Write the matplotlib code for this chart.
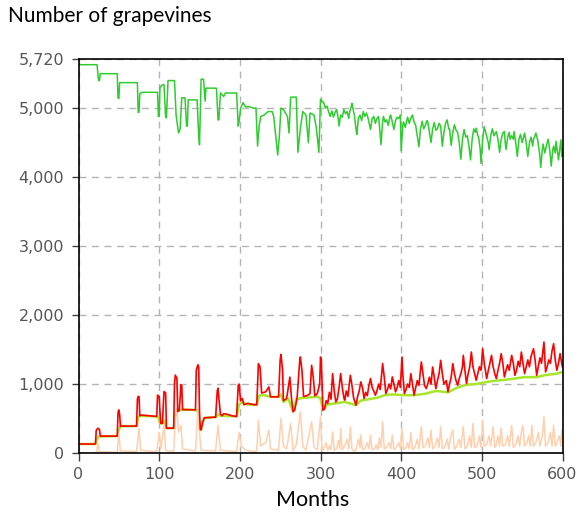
import matplotlib
matplotlib.use("Agg")
import matplotlib.pyplot as plt

# healthy vines (green, top)
g_months = [0, 23, 24, 25, 26, 27, 48, 49, 50, 51, 73, 74, 75, 76, 79, 98, 99, 100, 101, 104,
            106, 108, 109, 111, 119, 121, 124, 126, 128, 132, 134, 135, 136, 147, 149, 150, 152, 155, 157, 158,
            171, 173, 174, 176, 180, 182, 196, 198, 199, 201, 204, 207, 212, 217, 220, 222, 224, 226, 230, 235,
            240, 242, 247, 249, 251, 254, 259, 261, 263, 270, 272, 275, 278, 282, 285, 287, 292, 295, 298,
            300, 302, 304, 306, 308, 310, 312, 314, 316, 318, 320, 322, 323, 325, 327, 329, 331, 333, 335, 336,
            338, 339, 341, 342, 344, 345, 347, 349, 351, 353, 355, 357, 359, 360, 362, 364, 366, 368, 370, 372,
            373, 375, 377, 378, 380, 382, 384, 386, 387, 389, 391, 393, 395, 397, 399, 400, 402, 403, 405, 408,
            410, 411, 413, 414, 416, 418, 420, 422, 424, 426, 428, 430, 432, 433, 435, 437, 439, 441, 443, 445,
            447, 449, 451, 453, 455, 457, 459, 460, 462, 464, 466, 468, 470, 472, 474, 476, 478, 480, 482, 484,
            486, 488, 490, 492, 493, 495, 496, 498, 499, 501, 503, 505, 506, 508, 509, 511, 513, 515, 518, 520,
            522, 524, 526, 528, 529, 530, 532, 534, 535, 537, 539, 540, 542, 544, 546, 548, 550, 553, 555, 557,
            559, 561, 563, 564, 566, 567, 569, 570, 572, 573, 575, 576, 578, 580, 582, 583, 585, 586, 588, 589,
            591, 592, 594, 595, 597, 598, 599, 600]
g_vals = [5630, 5630, 5500, 5400, 5400, 5500, 5500, 5150, 5140, 5370, 5370, 4940, 4940, 5210, 5230, 5230, 4880, 4880, 5300, 5340,
          5340, 4870, 4860, 5400, 5400, 4900, 4640, 4700, 5150, 5150, 4740, 4740, 5120, 5120, 4600, 4470, 5420, 5420, 5100, 5290,
          5290, 4830, 4830, 5220, 5170, 5220, 5220, 4740, 4800, 5000, 5080, 5020, 5020, 5000, 5000, 4450, 4750, 4880, 4900, 4950,
          4950, 4880, 4320, 4600, 5000, 4980, 4880, 4640, 5160, 5160, 4360, 4700, 4950, 4900, 4500, 4930, 4900, 4700, 4360,
          5130, 5100, 5080, 5000, 5030, 4950, 4880, 4960, 4870, 4940, 4980, 4850, 4740, 4900, 4870, 4980, 4920, 4950, 4850, 4940,
          5020, 5070, 4950, 4900, 4700, 4620, 4850, 4900, 4820, 4950, 4880, 4930, 4850, 4800, 4690, 4850, 4880, 4780, 4850, 4880,
          4750, 4470, 4800, 4880, 4800, 4830, 4750, 4880, 4900, 4800, 4690, 4820, 4870, 4850, 4900, 4380, 4750, 4800, 4720, 4870,
          4780, 4820, 4880, 4900, 4800, 4750, 4600, 4440, 4700, 4810, 4700, 4750, 4820, 4800, 4650, 4500, 4700, 4790, 4680, 4700,
          4780, 4740, 4450, 4650, 4780, 4830, 4700, 4700, 4460, 4650, 4760, 4680, 4650, 4500, 4260, 4550, 4690, 4580, 4600, 4450,
          4250, 4550, 4700, 4650, 4710, 4600, 4580, 4400, 4200, 4550, 4730, 4640, 4600, 4500, 4400, 4600, 4700, 4600, 4660, 4550,
          4360, 4550, 4640, 4660, 4500, 4400, 4580, 4650, 4550, 4600, 4550, 4660, 4500, 4300, 4550, 4620, 4500, 4640, 4500, 4300,
          4500, 4580, 4450, 4550, 4600, 4640, 4550, 4480, 4300, 4140, 4400, 4480, 4350, 4450, 4550, 4500, 4300, 4160, 4400, 4450,
          4350, 4520, 4350, 4250, 4450, 4540, 4300, 4400]

# infected, latent (lime, mostly hidden under red)
l_months = [0, 21, 23, 25, 48, 50, 52, 72, 74, 76, 97, 99, 101, 104, 106, 109, 118, 120, 122, 125,
            129, 145, 148, 150, 152, 154, 156, 170, 173, 176, 196, 199, 203, 210, 221, 224, 230, 238, 248, 251,
            254, 260, 266, 270, 279, 290, 296, 300, 303, 308, 318, 330, 344, 350, 360, 370, 380, 390, 400, 416,
            430, 443, 458, 470, 481, 493, 506, 518, 528, 541, 553, 568, 579, 593, 600]
l_vals = [130, 130, 200, 240, 245, 330, 390, 390, 520, 540, 530, 520, 430, 430, 470, 360, 360, 560, 600, 620,
          630, 625, 600, 400, 335, 450, 510, 520, 560, 540, 530, 700, 740, 700, 700, 830, 840, 814, 814, 850,
          740, 790, 600, 780, 800, 810, 820, 790, 621, 700, 720, 740, 694, 760, 780, 800, 840, 850, 840, 838,
          860, 900, 880, 950, 990, 1000, 1030, 1050, 1060, 1080, 1100, 1100, 1130, 1150, 1175]

# total infected (red)
r_months = [0, 21, 22, 24, 26, 27, 48, 49, 50, 51, 52, 72, 73, 74, 75, 76, 78, 97, 98, 100,
            101, 102, 104, 106, 108, 109, 118, 119, 120, 122, 123, 125, 127, 128, 129, 145, 146, 148, 149, 150,
            151, 152, 154, 156, 170, 172, 173, 174, 176, 178, 180, 185, 190, 196, 198, 199, 201, 203, 205, 210,
            218, 221, 223, 225, 227, 232, 236, 238, 248, 250, 251, 253, 254, 258, 262, 264, 266, 268, 271, 274,
            275, 277, 279, 283, 287, 289, 291, 293, 296, 299,
            300, 301, 303, 305, 307, 309, 311, 313, 315, 317, 319, 321, 323, 325, 327, 329, 330, 332, 334, 337,
            339, 341, 344, 346, 348, 350, 352, 354, 356, 358, 360, 362, 364, 366, 368, 370, 372, 374, 377, 379,
            381, 383, 385, 387, 389, 391, 393, 395, 397, 399, 401, 402, 404, 406, 408, 410, 412, 414, 416, 418,
            420, 422, 425, 427, 429, 431, 433, 435, 437, 439, 441, 443, 445, 447, 449, 451, 453, 456, 458, 460,
            462, 464, 466, 468, 470, 472, 474, 476, 477, 479, 481, 483, 485, 487, 489, 491, 493, 495, 497, 499,
            501, 503, 505, 506, 508, 510, 512, 514, 516, 518, 520, 522, 524, 526, 528, 530, 532, 534, 537, 539,
            541, 543, 545, 547, 549, 551, 553, 555, 557, 559, 561, 564, 566, 568, 570, 572, 574, 577, 578, 579,
            581, 583, 585, 587, 589, 591, 593, 595, 597, 599, 600]
r_vals = [130, 130, 330, 360, 340, 245, 245, 580, 625, 560, 390, 390, 780, 820, 820, 540, 550, 530, 840, 820,
          600, 430, 430, 890, 870, 360, 360, 1000, 1130, 1080, 600, 620, 990, 980, 630, 625, 1200, 1280, 1250, 600,
          340, 335, 450, 510, 520, 900, 940, 800, 560, 540, 570, 560, 540, 530, 980, 1000, 760, 790, 700, 720,
          700, 700, 1296, 1250, 870, 886, 958, 814, 814, 1350, 1430, 1200, 760, 790, 1100, 800, 600, 620, 800, 1300,
          1392, 1200, 820, 830, 860, 1272, 1100, 830, 860, 1000,
          1392, 1350, 621, 640, 760, 720, 880, 780, 1151, 900, 740, 790, 950, 1151, 950, 800, 766, 900, 820, 1127,
          980, 800, 694, 820, 900, 1031, 950, 790, 880, 830, 980, 1080, 950, 900, 838, 900, 1000, 920, 1296, 1100,
          862, 920, 1000, 930, 1103, 1000, 886, 950, 1050, 950, 1392, 1150, 862, 920, 1000, 950, 1151, 1000, 838, 950,
          1050, 980, 1320, 1150, 980, 934, 1000, 1100, 1000, 1247, 1100, 934, 1050, 1150, 1344, 1150, 1000, 1050, 886, 1000,
          1100, 1296, 1150, 1050, 983, 1080, 1150, 1250, 1416, 1200, 1007, 1150, 1250, 1464, 1250, 1150, 1055, 1150, 1250, 1200,
          1512, 1300, 1150, 1079, 1200, 1300, 1416, 1250, 1150, 1079, 1200, 1300, 1440, 1300, 1103, 1200, 1280, 1200, 1416, 1300,
          1127, 1200, 1330, 1250, 1464, 1300, 1151, 1250, 1350, 1250, 1400, 1512, 1350, 1127, 1250, 1380, 1300, 1609, 1400, 1175,
          1250, 1350, 1300, 1480, 1585, 1350, 1200, 1300, 1440, 1300, 1247]

# symptomatic (peach, bottom)
o_months = [0, 22, 24, 26, 48, 50, 52, 72, 75, 77, 97, 100, 102, 106, 108, 118, 120, 122, 124, 127,
            129, 145, 148, 150, 152, 170, 173, 176, 196, 199, 202, 206, 215, 221, 223, 226, 232, 236, 238, 248,
            251, 254, 258, 263, 266, 270, 275, 278, 282, 289, 292, 296,
            300, 302, 304, 307, 309, 311, 313, 315, 317, 320, 322, 324, 325, 327, 330, 333, 335, 337, 339, 341,
            344, 347, 349, 350, 352, 355, 358, 360, 362, 364, 367, 369, 371, 373, 375, 377, 379, 382, 385, 387,
            389, 391, 394, 397, 399, 401, 403, 406, 408, 410, 412, 414, 417, 420, 422, 425, 427, 430, 433, 435,
            437, 439, 442, 445, 447, 449, 451, 454, 457, 459, 461, 464, 466, 469, 472, 474, 477, 479, 482, 485,
            487, 489, 491, 494, 497, 499, 501, 503, 506, 509, 511, 514, 516, 518, 520, 522, 524, 526, 529, 532,
            534, 537, 539, 542, 545, 547, 549, 551, 553, 556, 558, 560, 562, 564, 567, 570, 572, 575, 577, 579,
            582, 585, 587, 589, 591, 593, 596, 598, 599, 600]
o_vals = [0, 0, 140, 20, 10, 280, 30, 20, 355, 40, 20, 300, 50, 400, 40, 20, 500, 640, 300, 400,
          60, 30, 640, 300, 40, 30, 400, 40, 20, 300, 100, 50, 20, 30, 477, 100, 150, 330, 60, 40,
          501, 100, 60, 428, 30, 120, 597, 100, 40, 453, 80, 50,
          520, 30, 60, 150, 40, 100, 50, 308, 40, 60, 180, 60, 357, 50, 100, 200, 60, 380, 60, 30,
          40, 200, 80, 260, 50, 60, 150, 60, 260, 50, 60, 120, 50, 220, 80, 453, 60, 80, 150, 60,
          260, 50, 80, 150, 60, 357, 50, 80, 150, 60, 300, 50, 80, 200, 60, 381, 80, 100, 220, 80,
          333, 60, 100, 220, 80, 381, 60, 80, 200, 60, 220, 333, 50, 100, 200, 80, 381, 60, 100, 250,
          80, 430, 80, 100, 250, 80, 477, 100, 120, 250, 100, 381, 80, 120, 250, 100, 360, 100, 120, 250,
          100, 400, 80, 120, 250, 100, 300, 400, 100, 150, 250, 100, 400, 100, 150, 300, 100, 250, 525, 100,
          150, 300, 100, 400, 100, 150, 250, 100, 333, 250]

x_ticks = [0, 100, 200, 300, 400, 500, 600]
y_ticks = [0, 1000, 2000, 3000, 4000, 5000, 5720]

fig = plt.figure(figsize=(5.8, 5.13), dpi=100)
ax = fig.add_axes([78.5 / 580, 1 - 453 / 513, (562.5 - 78.5) / 580, (453 - 58.5) / 513])

ax.plot(g_months, g_vals, color="#2ecc2e", lw=1.1)
ax.plot(l_months, l_vals, color="#a6e62a", lw=1.8)
ax.plot(o_months, o_vals, color="#ffd0ae", lw=1.1)
ax.plot(r_months, r_vals, color="#ff0000", lw=1.2)

ax.set_xlim(0, 600)
ax.set_ylim(0, 5720)
ax.set_xticks(x_ticks)
ax.set_yticks(y_ticks)
ax.set_yticklabels([f"{v:,}" for v in y_ticks])
ax.grid(True, color="#b4b4b4", ls=(0, (5, 4)), lw=1.0)
ax.tick_params(labelsize=11.5, labelcolor="#555555", color="#404040",
               length=5.4, width=1, pad=5)
for lab in ax.get_xticklabels() + ax.get_yticklabels():
    lab.set_family("DejaVu Sans")
for s in ax.spines.values():
    s.set_color("black")
    s.set_linewidth(1.2)

fig.text(8 / 580, 1 - 22 / 513, "Number of grapevines", fontsize=15,
         family="Lato", va="baseline", ha="left", color="black")
fig.text(313 / 580, 1 - 506.5 / 513, "Months", fontsize=15.5,
         family="Lato", va="baseline", ha="center", color="black")

fig.savefig("out.png", dpi=100)
